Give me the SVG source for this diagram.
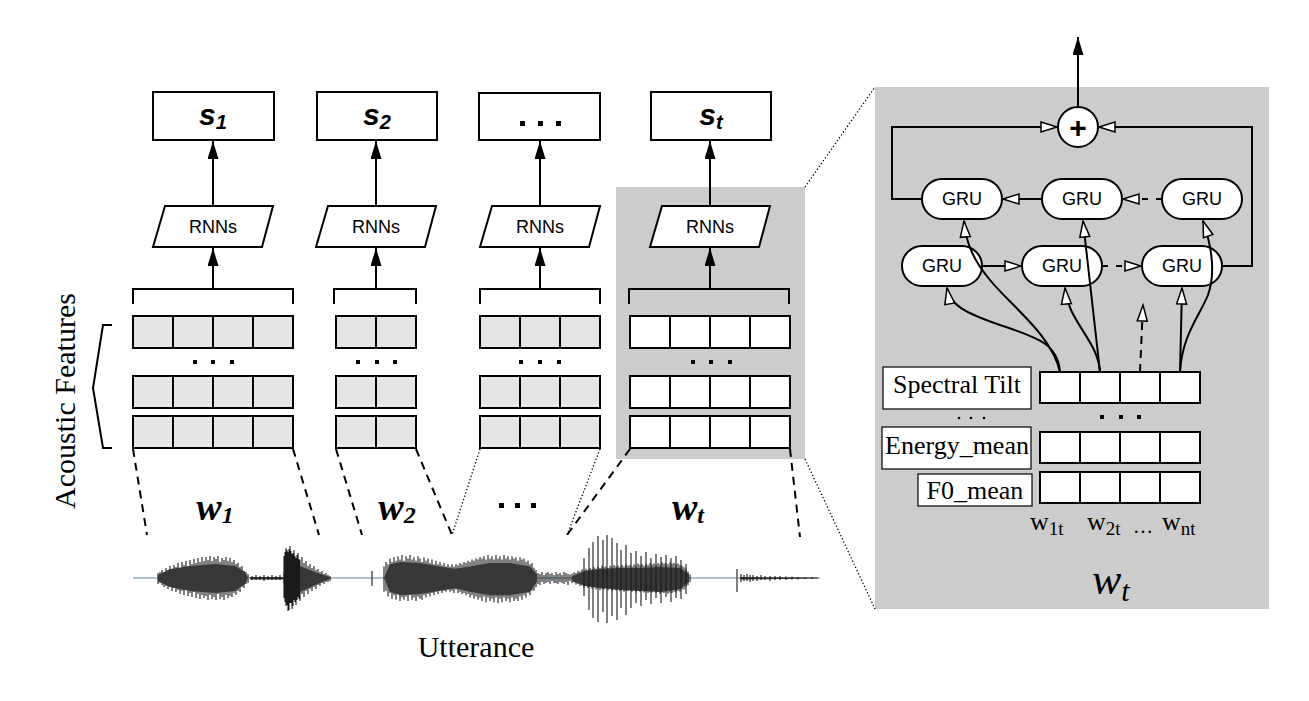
<svg xmlns="http://www.w3.org/2000/svg" width="1309" height="701" viewBox="0 0 1309 701">
<defs>
<style>
.box{fill:#fff;stroke:#000;stroke-width:2}
.cell{fill:#e6e6e6;stroke:#000;stroke-width:2}
.cellw{fill:#fff;stroke:#000;stroke-width:2}
.lbl{fill:#fff;stroke:#000;stroke-width:1.2}
.ln{fill:none;stroke:#000;stroke-width:2}
.dash{fill:none;stroke:#000;stroke-width:2;stroke-dasharray:8 6}
.dashs{fill:none;stroke:#000;stroke-width:2;stroke-dasharray:6 8}
.dot{fill:none;stroke:#000;stroke-width:1.3;stroke-dasharray:1.3 2.2}
.s{font-family:"Liberation Sans",Arial,sans-serif;font-weight:bold;font-style:italic;font-size:30px;text-anchor:middle}
.rn{font-family:"Liberation Sans",Arial,sans-serif;font-size:18px;text-anchor:middle}
.serif{font-family:"Liberation Serif","Times New Roman",serif}
.wl{font-family:"Liberation Serif","Times New Roman",serif;font-weight:bold;font-style:italic;font-size:38px;text-anchor:middle}
.sq{fill:#000}
.bg{fill:#cccccc}
.body{fill:#5c5c5c}
.sp{fill:none;stroke:#1a1a1a;stroke-width:1.1}
</style>
<marker id="ab" viewBox="0 0 18 11" refX="18" refY="5.5" markerWidth="18" markerHeight="11" markerUnits="userSpaceOnUse" orient="auto"><path d="M0,0 L18,5.5 L0,11 z" fill="#000"/></marker>
<marker id="ao" viewBox="-1 -1 18 12" refX="16" refY="5" markerWidth="18" markerHeight="12" markerUnits="userSpaceOnUse" orient="auto" overflow="visible"><path d="M0,0 L16,5 L0,10 z" fill="#fff" stroke="#000" stroke-width="1.5"/></marker>
</defs>

<!-- backgrounds -->
<rect class="bg" x="616" y="187" width="189" height="272"/>
<rect class="bg" x="875" y="87" width="394" height="522"/>
<g id="zoom-lines">
<line class="dot" x1="805" y1="187" x2="875" y2="87"/>
<line class="dot" x1="805" y1="459" x2="875" y2="609"/>
</g>

<!-- output boxes -->
<g id="s1"><rect class="box" x="153" y="92" width="121" height="48"/><text class="s" x="213" y="125">s<tspan font-size="20" dy="4">1</tspan></text></g>
<g id="s2"><rect class="box" x="317" y="92" width="120" height="48"/><text class="s" x="377" y="125">s<tspan font-size="20" dy="4">2</tspan></text></g>
<g id="sdots"><rect class="box" x="479" y="93" width="121" height="47"/><rect class="sq" x="520" y="121" width="5" height="5"/><rect class="sq" x="538" y="121" width="5" height="5"/><rect class="sq" x="556" y="121" width="5" height="5"/></g>
<g id="st"><rect class="box" x="651" y="92" width="120" height="48"/><text class="s" x="711" y="125">s<tspan font-size="20" dy="4">t</tspan></text></g>

<!-- RNNs -->
<g id="rnn1"><polygon class="box" points="165,206 273,206 262,247 153,247"/><text class="rn" x="213" y="233">RNNs</text></g>
<g id="rnn2"><polygon class="box" points="328,206 436,206 425,247 316,247"/><text class="rn" x="376" y="233">RNNs</text></g>
<g id="rnn3"><polygon class="box" points="492,206 600,206 589,247 480,247"/><text class="rn" x="540" y="233">RNNs</text></g>
<g id="rnn4"><polygon class="box" points="662,206 770,206 759,247 650,247"/><text class="rn" x="710" y="233">RNNs</text></g>

<!-- feature grids -->
<g id="grid1">
<path class="ln" d="M133,304 V289 H293 V304"/>
<g class="cell"><rect x="133" y="316" width="40" height="32"/><rect x="173" y="316" width="40" height="32"/><rect x="213" y="316" width="40" height="32"/><rect x="253" y="316" width="40" height="32"/>
<rect x="133" y="376" width="40" height="32"/><rect x="173" y="376" width="40" height="32"/><rect x="213" y="376" width="40" height="32"/><rect x="253" y="376" width="40" height="32"/>
<rect x="133" y="416" width="40" height="32"/><rect x="173" y="416" width="40" height="32"/><rect x="213" y="416" width="40" height="32"/><rect x="253" y="416" width="40" height="32"/></g>
<rect class="sq" x="193" y="360" width="4" height="4"/><rect class="sq" x="211" y="360" width="4" height="4"/><rect class="sq" x="230" y="360" width="4" height="4"/>
</g>
<g id="grid2">
<path class="ln" d="M334,304 V289 H416 V304"/>
<g class="cell"><rect x="336" y="316" width="40" height="32"/><rect x="376" y="316" width="40" height="32"/>
<rect x="336" y="376" width="40" height="32"/><rect x="376" y="376" width="40" height="32"/>
<rect x="336" y="416" width="40" height="32"/><rect x="376" y="416" width="40" height="32"/></g>
<rect class="sq" x="356" y="360" width="4" height="4"/><rect class="sq" x="375" y="360" width="4" height="4"/><rect class="sq" x="393" y="360" width="4" height="4"/>
</g>
<g id="grid3">
<path class="ln" d="M480,304 V289 H600 V304"/>
<g class="cell"><rect x="480" y="316" width="40" height="32"/><rect x="520" y="316" width="40" height="32"/><rect x="560" y="316" width="40" height="32"/>
<rect x="480" y="376" width="40" height="32"/><rect x="520" y="376" width="40" height="32"/><rect x="560" y="376" width="40" height="32"/>
<rect x="480" y="416" width="40" height="32"/><rect x="520" y="416" width="40" height="32"/><rect x="560" y="416" width="40" height="32"/></g>
<rect class="sq" x="519" y="360" width="4" height="4"/><rect class="sq" x="538" y="360" width="4" height="4"/><rect class="sq" x="557" y="360" width="4" height="4"/>
</g>
<g id="grid4">
<path class="ln" d="M629,304 V289 H789 V304"/>
<g class="cellw"><rect x="630" y="316" width="40" height="32"/><rect x="670" y="316" width="40" height="32"/><rect x="710" y="316" width="40" height="32"/><rect x="750" y="316" width="40" height="32"/>
<rect x="630" y="376" width="40" height="32"/><rect x="670" y="376" width="40" height="32"/><rect x="710" y="376" width="40" height="32"/><rect x="750" y="376" width="40" height="32"/>
<rect x="630" y="416" width="40" height="32"/><rect x="670" y="416" width="40" height="32"/><rect x="710" y="416" width="40" height="32"/><rect x="750" y="416" width="40" height="32"/></g>
<rect class="sq" x="691" y="360" width="4" height="4"/><rect class="sq" x="709" y="360" width="4" height="4"/><rect class="sq" x="728" y="360" width="4" height="4"/>
</g>

<!-- acoustic features label + brace -->
<g id="acoustic">
<path class="ln" stroke-width="1.6" d="M112,325 H103 L93,388 L103,448 H112"/>
<text class="serif" font-size="30" text-anchor="middle" transform="translate(75,401) rotate(-90)">Acoustic Features</text>
</g>

<!-- segment lines -->
<g id="segment-lines">
<line class="dash" x1="133" y1="449" x2="147" y2="535"/>
<line class="dash" x1="293" y1="449" x2="319" y2="535"/>
<line class="dash" x1="336" y1="449" x2="362" y2="535"/>
<line class="dash" x1="416" y1="449" x2="452" y2="535"/>
<line class="dot" x1="480" y1="449" x2="452" y2="535"/>
<line class="dot" x1="600" y1="449" x2="567" y2="535"/>
<line class="dash" x1="630" y1="449" x2="567" y2="535"/>
<line class="dash" x1="790" y1="449" x2="800" y2="537"/>
</g>
<g id="word-labels">
<text class="wl" x="215" y="520">w<tspan font-size="24" dy="3">1</tspan></text>
<text class="wl" x="397" y="520">w<tspan font-size="24" dy="3">2</tspan></text>
<rect class="sq" x="499" y="503" width="5" height="5"/><rect class="sq" x="515" y="503" width="5" height="5"/><rect class="sq" x="531" y="503" width="5" height="5"/>
<text class="wl" x="688" y="520">w<tspan font-size="24" dy="3">t</tspan></text>
</g>

<!-- waveform -->
<g id="waveform">
<line x1="133" y1="578" x2="820" y2="578" stroke="#5f8aa5" stroke-width="1"/>
<path fill="#333" d="M250,577 L283,577 L283,579.5 L250,579.5 Z M740,577 L818,577.5 L818,578.5 L740,579.5 Z"/>
<path class="body" d="M158,575 L170,569 L190,566 L215,564 L235,566 L245,572 L248,578 L245,584 L235,591 L215,593 L190,591 L170,587 L158,581 Z"/>
<path class="body" d="M283,578 L285,562 L292,560 L300,566 L315,572 L330,577 L330,579 L315,585 L300,592 L292,598 L285,595 Z"/>
<path class="body" d="M572,576 L585,571 L600,569 L620,568 L640,568 L660,567 L680,568 L689,574 L689,582 L680,589 L660,592 L640,591 L620,590 L600,588 L585,586 L572,581 Z"/>
<path class="sp" d="M158,573v11 M160,572v11 M162,570v15 M164,572v15 M166,568v18 M168,570v19 M170,566v21 M172,569v22 M174,565v23 M176,567v25 M178,563v27 M180,568v26 M182,562v29 M184,565v30 M186,561v29 M188,566v30 M190,560v33 M192,564v33 M194,559v33 M196,563v35 M198,558v36 M200,562v37 M202,557v38 M204,561v37 M206,557v39 M208,560v40 M210,556v39 M212,561v38 M214,557v40 M216,559v41 M218,556v38 M220,562v37 M222,558v39 M224,560v40 M226,557v38 M228,561v37 M230,558v38 M232,562v35 M234,560v33 M236,564v31 M238,563v28 M240,567v25 M242,566v21 M244,571v17 M246,572v12 M248,574v9
M252,576v4 M256,575v5 M260,576v4 M264,575v6 M268,576v4 M272,575v5 M276,576v4 M280,575v5
M284,556v42 M285,552v50 M286,548v58 M287,550v55 M288,552v59 M289,549v61 M290,546v57 M291,551v52 M292,554v55 M293,553v53 M294,550v50 M295,556v46 M296,558v47 M297,555v45 M298,553v44 M299,559v40 M300,560v41 M302,557v37 M304,563v34 M306,561v30 M308,566v28 M310,564v25 M312,568v23 M314,566v21 M316,570v19 M318,569v16 M320,572v14 M322,571v12 M324,574v10 M326,573v9 M328,575v7 M330,576v5
M372,571v15 M737,569v23"/>
<g transform="translate(0,578) scale(1,1.15) translate(0,-578)">
<path class="body" d="M384,578 L390,566 L400,564 L420,565 L440,568 L455,570 L470,568 L490,565 L510,565 L530,568 L537,575 L537,581 L530,590 L510,593 L490,593 L470,590 L455,587 L440,589 L420,592 L400,593 L390,590 Z"/>
<path class="sp" d="M384,568v22 M386,564v25 M388,566v28 M390,561v30 M392,564v32 M394,560v33 M396,563v34 M398,559v33 M400,562v36 M402,558v37 M404,563v34 M406,559v35 M408,561v37 M410,558v35 M412,562v35 M414,560v35 M416,563v35 M418,559v35 M420,561v35 M422,564v33 M424,560v33 M426,563v32 M428,561v31 M430,565v29 M432,562v29 M434,566v27 M436,563v27 M438,566v26 M440,564v25 M442,567v24 M444,565v24 M446,568v22 M448,566v22 M450,568v22 M452,566v23 M454,568v23 M456,566v22 M458,567v24 M460,565v25 M462,566v26 M464,564v27 M466,565v28 M468,563v29 M470,564v31 M472,562v31 M474,563v33 M476,561v33 M478,562v35 M480,560v35 M482,561v37 M484,559v35 M486,562v37 M488,558v37 M490,561v37 M492,559v37 M494,562v37 M496,558v37 M498,561v39 M500,559v37 M502,562v37 M504,558v37 M506,561v37 M508,559v37 M510,562v37 M512,559v36 M514,561v37 M516,560v36 M518,563v35 M520,560v34 M522,562v35 M524,561v32 M526,564v31 M528,563v28 M530,566v27 M532,565v24 M534,569v20 M536,571v15"/>
</g>
<path class="sp" d="M538,573v11 M540,574v11 M542,572v10 M544,575v9 M546,573v10 M548,572v10 M550,574v10 M552,573v8 M554,575v8 M556,572v11 M558,574v10 M560,573v9 M562,575v8 M564,572v12 M566,573v9 M568,574v11"/>
<g transform="translate(0,578) scale(1,0.72) translate(0,-578)">
<path class="sp" stroke="#222" d="M570,573v9 M572,572v13 M574,570v14 M576,571v16 M578,568v18 M580,569v20 M582,566v22 M584,568v23 M586,565v24 M588,567v25 M590,564v26 M592,566v27 M594,563v28 M596,565v29 M598,562v30 M600,564v31 M602,561v32 M604,563v31 M606,562v30 M608,564v31 M610,561v32 M612,563v33 M614,560v34 M616,562v33 M618,561v32 M620,563v33 M622,560v34 M624,562v35 M626,559v36 M628,561v35 M630,560v34 M632,562v35 M634,559v36 M636,561v37 M638,558v38 M640,560v37 M642,559v36 M644,561v37 M646,558v38 M648,560v39 M650,557v40 M652,559v39 M654,558v38 M656,560v39 M658,557v40 M660,559v41 M662,556v42 M664,558v41 M666,557v40 M668,559v41 M670,556v42 M672,558v41 M674,557v40 M676,559v39 M678,558v38 M680,560v37 M682,561v33 M684,563v31 M686,565v25 M688,569v19 M690,573v11"/>
</g>
<path class="sp" stroke-width="1.3" d="M584,558v38 M589,548v62 M593,542v76 M598,536v86 M603,540v72 M607,535v88 M612,538v78 M617,543v77 M621,550v58 M626,545v70 M631,553v55 M636,551v52 M641,556v50 M646,552v48 M651,558v46 M656,554v44 M661,557v46 M666,555v42 M671,558v44 M676,556v42 M681,560v39 M686,564v30"/>
<path class="sp" d="M741,574v8 M744,575v6 M747,574v7 M750,575v7 M753,575v6 M757,576v5 M761,575v5 M765,576v4 M770,576v5 M775,576v4 M780,576v4 M786,576.5v3.5 M792,576.5v3 M798,577v2.5 M805,577v2 M812,577v2"/>
</g>
<text class="serif" font-size="30" x="476" y="657" text-anchor="middle">Utterance</text>

<!-- right panel nodes -->
<g id="plus"><circle cx="1078" cy="127" r="20" fill="#fff" stroke="#000" stroke-width="2"/><text x="1078" y="138" font-family="Liberation Sans, Arial, sans-serif" font-weight="bold" font-size="30" text-anchor="middle">+</text></g>
<g id="gru-a"><rect class="box" x="922" y="179" width="80" height="40" rx="20"/><text class="rn" x="962" y="205">GRU</text></g>
<g id="gru-b"><rect class="box" x="1042" y="179" width="80" height="40" rx="20"/><text class="rn" x="1082" y="205">GRU</text></g>
<g id="gru-c"><rect class="box" x="1162" y="179" width="80" height="40" rx="20"/><text class="rn" x="1202" y="205">GRU</text></g>
<g id="gru-d"><rect class="box" x="902" y="246" width="80" height="40" rx="20"/><text class="rn" x="942" y="272">GRU</text></g>
<g id="gru-e"><rect class="box" x="1022" y="246" width="80" height="40" rx="20"/><text class="rn" x="1062" y="272">GRU</text></g>
<g id="gru-f"><rect class="box" x="1142" y="246" width="80" height="40" rx="20"/><text class="rn" x="1182" y="272">GRU</text></g>

<g id="feature-grid">
<g class="cellw"><rect x="1040" y="372" width="40" height="31"/><rect x="1080" y="372" width="40" height="31"/><rect x="1120" y="372" width="40" height="31"/><rect x="1160" y="372" width="40" height="31"/>
<rect x="1040" y="432" width="40" height="31"/><rect x="1080" y="432" width="40" height="31"/><rect x="1120" y="432" width="40" height="31"/><rect x="1160" y="432" width="40" height="31"/>
<rect x="1040" y="472" width="40" height="31"/><rect x="1080" y="472" width="40" height="31"/><rect x="1120" y="472" width="40" height="31"/><rect x="1160" y="472" width="40" height="31"/></g>
<rect class="sq" x="1100" y="415" width="4" height="4"/><rect class="sq" x="1119" y="415" width="4" height="4"/><rect class="sq" x="1137" y="415" width="4" height="4"/>
</g>
<g id="label-spectral"><rect class="lbl" x="883" y="367" width="148" height="42"/><text class="serif" font-size="26" x="957" y="393" text-anchor="middle">Spectral Tilt</text></g>
<g id="label-dots"><circle cx="959" cy="418" r="1.3"/><circle cx="971" cy="418" r="1.3"/><circle cx="984" cy="418" r="1.3"/></g>
<g id="label-energy"><rect class="lbl" x="882" y="427" width="149" height="42"/><text class="serif" font-size="26" x="957" y="454" text-anchor="middle">Energy_mean</text></g>
<g id="label-f0"><rect class="lbl" x="918" y="474" width="114" height="32"/><text class="serif" font-size="26" x="975" y="499" text-anchor="middle">F0_mean</text></g>

<g id="panel-labels">
<text class="serif" font-size="26" x="1030" y="530">w<tspan font-size="19" dy="5">1t</tspan></text>
<text class="serif" font-size="26" x="1087" y="530">w<tspan font-size="19" dy="5">2t</tspan></text>
<text class="serif" font-size="20" x="1133" y="533">…</text>
<text class="serif" font-size="26" x="1162" y="530">w<tspan font-size="19" dy="5">nt</tspan></text>
<text class="serif" font-style="italic" font-size="44" x="1092" y="594">w<tspan font-size="30" dy="7">t</tspan></text>
</g>

<!-- connectors -->
<g id="connectors">
<line class="ln" x1="213" y1="206" x2="213" y2="141" marker-end="url(#ab)"/>
<line class="ln" x1="376" y1="206" x2="376" y2="141" marker-end="url(#ab)"/>
<line class="ln" x1="540" y1="206" x2="540" y2="141" marker-end="url(#ab)"/>
<line class="ln" x1="710" y1="206" x2="710" y2="141" marker-end="url(#ab)"/>
<line class="ln" x1="213" y1="289" x2="213" y2="248" marker-end="url(#ab)"/>
<line class="ln" x1="376" y1="289" x2="376" y2="248" marker-end="url(#ab)"/>
<line class="ln" x1="540" y1="289" x2="540" y2="248" marker-end="url(#ab)"/>
<line class="ln" x1="710" y1="289" x2="710" y2="248" marker-end="url(#ab)"/>

<line class="ln" x1="1078" y1="107" x2="1078" y2="37" marker-end="url(#ab)"/>
<path class="ln" d="M922,199 H892 V127 H1057" marker-end="url(#ao)"/>
<path class="ln" d="M1222,266 H1252 V127 H1099" marker-end="url(#ao)"/>
<line class="ln" x1="1042" y1="199" x2="1003" y2="199" marker-end="url(#ao)"/>
<line class="dashs" x1="1162" y1="199" x2="1123" y2="199" marker-end="url(#ao)"/>
<line class="ln" x1="982" y1="266" x2="1021" y2="266" marker-end="url(#ao)"/>
<line class="dashs" x1="1102" y1="266" x2="1141" y2="266" marker-end="url(#ao)"/>

<path class="ln" d="M1060,372 C1058,345 1040,338 1000,325 C965,313 950,305 947,288" marker-end="url(#ao)"/>
<path class="ln" d="M1060,372 C1052,335 1010,305 990,280 C975,262 966,245 964,221" marker-end="url(#ao)"/>
<path class="ln" d="M1100,372 C1098,340 1068,322 1065,288" marker-end="url(#ao)"/>
<path class="ln" d="M1100,372 Q1092,300 1083,221" marker-end="url(#ao)"/>
<line class="dash" x1="1140" y1="372" x2="1143" y2="305" marker-end="url(#ao)"/>
<line class="ln" x1="1180" y1="372" x2="1182" y2="288" marker-end="url(#ao)"/>
<path class="ln" d="M1180,372 C1182,335 1200,315 1208,295 C1215,275 1213,250 1203,221" marker-end="url(#ao)"/>
</g>
</svg>
